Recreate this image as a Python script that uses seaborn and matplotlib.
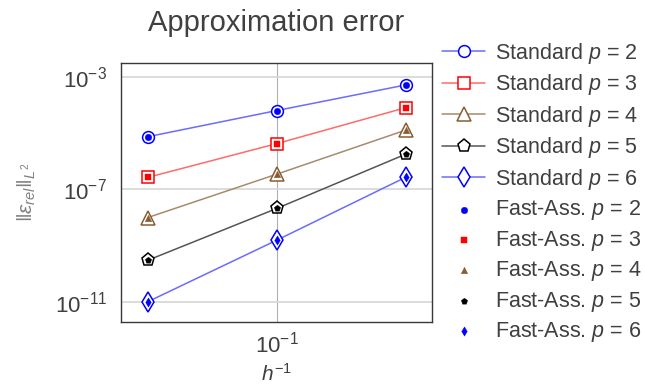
import numpy as np
import pandas as pd
import matplotlib
matplotlib.use("Agg")
import matplotlib.pyplot as plt
import seaborn as sns

# ---- data ----
h_inv = [0.05, 0.1, 0.2]
degrees = [2, 3, 4, 5, 6]
std_err = {
    2: [7.6e-6, 6.5e-5, 5.3e-4],
    3: [2.7e-7, 4.3e-6, 8.2e-5],
    4: [1.0e-8, 3.5e-7, 1.3e-5],
    5: [3.0e-10, 2.1e-8, 1.8e-6],
    6: [1.0e-11, 1.55e-9, 2.7e-7],
}
fast_err = {
    2: [7.6e-6, 6.5e-5, 5.3e-4],
    3: [2.7e-7, 4.3e-6, 8.2e-5],
    4: [1.0e-8, 3.5e-7, 1.3e-5],
    5: [3.0e-10, 2.1e-8, 1.8e-6],
    6: [1.0e-11, 1.55e-9, 2.7e-7],
}
colors = {2: "#0000ff", 3: "#ff0000", 4: "#8a5c30", 5: "#000000", 6: "#0000ff"}
line_colors = {2: "#6b6bff", 3: "#ff6b6b", 4: "#a88a6c", 5: "#555555", 6: "#6b6bff"}
markers = {2: "o", 3: "s", 4: "^", 5: "p", 6: "d"}
msizes = {2: 8.5, 3: 8.5, 4: 9.5, 5: 9.5, 6: 10}

sns.set_theme(style="white")
plt.rcParams["font.family"] = ["Liberation Sans", "DejaVu Sans"]
plt.rcParams["mathtext.fontset"] = "custom"
plt.rcParams["mathtext.rm"] = "Liberation Sans"
plt.rcParams["mathtext.it"] = "Liberation Sans:italic"
plt.rcParams["mathtext.bf"] = "Liberation Sans:bold"
textc = "#404040"

fig = plt.figure(figsize=(6.45, 3.91), dpi=100)
ax = fig.add_axes([0.1876, 0.1765, 0.4822, 0.6625])

for p in degrees:
    df = pd.DataFrame({"x": h_inv, "y": std_err[p]})
    sns.lineplot(data=df, x="x", y="y", ax=ax, color=line_colors[p], lw=1.1,
                 marker=markers[p], markersize=msizes[p],
                 markerfacecolor="white", markeredgecolor=colors[p],
                 markeredgewidth=1.1, label=f"Standard $p$ = {p}", zorder=3)
for p in degrees:
    df = pd.DataFrame({"x": h_inv, "y": fast_err[p]})
    sns.scatterplot(data=df, x="x", y="y", ax=ax, color=colors[p],
                    marker=markers[p], s=22, edgecolor=colors[p], linewidth=0.3,
                    label=f"Fast-Ass. $p$ = {p}", zorder=4)

ax.set_xscale("log")
ax.set_yscale("log")
ax.set_xlim(10 ** -1.364, 10 ** -0.637)
ax.set_ylim(10 ** -11.725, 10 ** -2.49)
ax.set_xticks([0.1])
ax.set_xticklabels([r"$10^{-1}$"])
ax.set_yticks([1e-11, 1e-7, 1e-3])
ax.set_yticklabels([r"$10^{-11}$", r"$10^{-7}$", r"$10^{-3}$"])
ax.minorticks_off()
ax.grid(True, which="major", color="#d6d6d6", lw=1.2)
ax.xaxis.grid(True, color="#b0b0b0", lw=0.8)
ax.tick_params(axis="both", labelsize=16, colors=textc, length=0)
ax.tick_params(axis="y", pad=10)
ax.tick_params(axis="x", pad=7)
for s in ax.spines.values():
    s.set_color("#383838")
    s.set_linewidth(1)

ax.set_xlabel(r"$h^{-1}$", fontsize=15, color=textc, labelpad=4)
ax.set_ylabel(r"$\|\epsilon_{rel}\|_{L^2}$", fontsize=15, color="#808080", labelpad=12)
ax.set_title("Approximation error", fontsize=21, color=textc, pad=23)

handles, labels = ax.get_legend_handles_labels()
leg = ax.legend(handles, labels, loc="upper left", bbox_to_anchor=(1.032, 1.085),
                frameon=False, fontsize=15.5, labelspacing=0.3, handlelength=2.0,
                handletextpad=0.47, borderaxespad=0.0, borderpad=0.0)
for t in leg.get_texts():
    t.set_color(textc)

fig.savefig("out.png", dpi=100)
